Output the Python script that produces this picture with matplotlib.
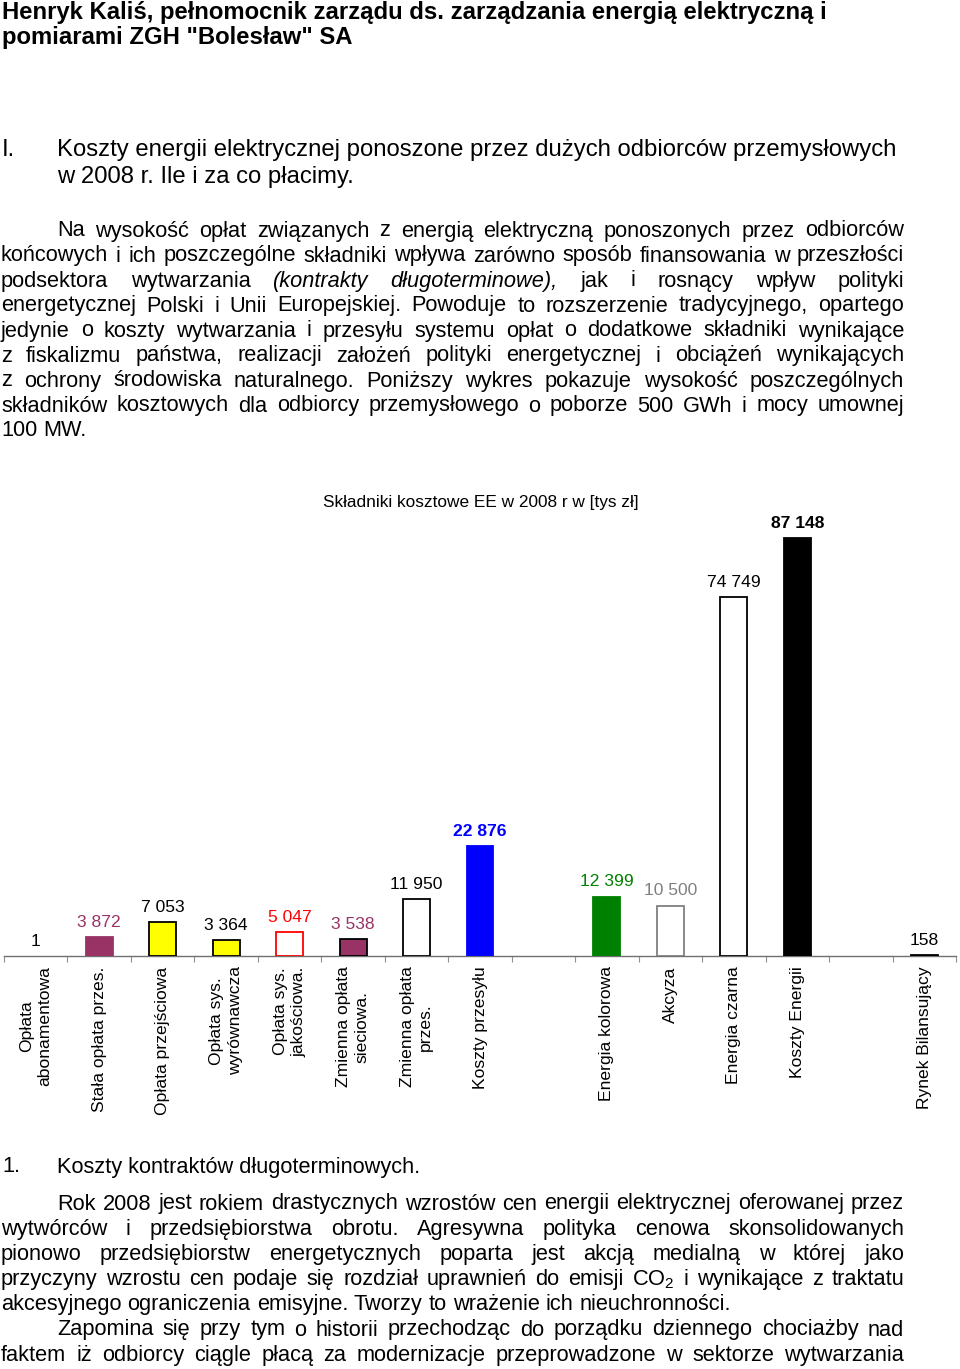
import matplotlib
matplotlib.use("Agg")
import matplotlib.pyplot as plt
from matplotlib.transforms import Affine2D
import numpy as np

plt.rcParams['font.family'] = ['Liberation Sans', 'DejaVu Sans']
plt.rcParams['mathtext.fontset'] = 'custom'
plt.rcParams['mathtext.rm'] = 'Liberation Sans'
plt.rcParams['mathtext.it'] = 'Liberation Sans:italic'
plt.rcParams['mathtext.bf'] = 'Liberation Sans:bold'

# ---------------- data ----------------
categories = ["Opłata\nabonamentowa", "Stała opłata przes.", "Opłata przejściowa",
              "Opłata sys.\nwyrównawcza", "Opłata sys.\njakościowa.", "Zmienna opłata\nsieciowa.",
              "Zmienna opłata\nprzes.", "Koszty przesyłu", "", "Energia kolorowa", "Akcyza",
              "Energia czarna", "Koszty Energii", "", "Rynek Bilansujący"]
values = [1, 3872, 7053, 3364, 5047, 3538, 11950, 22876, None, 12399, 10500, 74749, 87148, None, 158]
face_colors = ["white", "#993366", "#FFFF00", "#FFFF00", "white", "#993366", "white", "#0000FF",
               None, "#008000", "white", "white", "black", None, "black"]
edge_colors = ["none", "#993366", "black", "black", "#FF0000", "black", "black", "#0000FF",
               None, "#008000", "#808080", "black", "black", None, "black"]
label_colors = ["black", "#993366", "black", "black", "#FF0000", "#993366", "black", "#0000FF",
                None, "#008000", "#808080", "black", "black", None, "black"]
label_bold = [False, False, False, False, False, False, False, True,
              False, False, False, False, True, False, False]
chart_title = "Składniki kosztowe EE w 2008 r w [tys zł]"

header_lines = ["Henryk Kaliś, pełnomocnik zarządu ds. zarządzania energią elektryczną i",
                "pomiarami ZGH \"Bolesław\" SA"]
heading_num = "I."
heading_lines = ["Koszty energii elektrycznej ponoszone przez dużych odbiorców przemysłowych",
                 "w 2008 r. Ile i za co płacimy."]
para1 = ["Na wysokość opłat związanych z energią elektryczną ponoszonych przez odbiorców",
         "końcowych i ich poszczególne składniki wpływa zarówno sposób finansowania w przeszłości",
         "podsektora wytwarzania *(kontrakty* *długoterminowe),* jak i rosnący wpływ polityki",
         "energetycznej Polski i Unii Europejskiej. Powoduje to rozszerzenie tradycyjnego, opartego",
         "jedynie o koszty wytwarzania i przesyłu systemu opłat o dodatkowe składniki wynikające",
         "z fiskalizmu państwa, realizacji założeń polityki energetycznej i obciążeń wynikających",
         "z ochrony środowiska naturalnego. Poniższy wykres pokazuje wysokość poszczególnych",
         "składników kosztowych dla odbiorcy przemysłowego o poborze 500 GWh i mocy umownej",
         "100 MW."]
sub_num = "1."
sub_title = "Koszty kontraktów długoterminowych."
para2 = ["Rok 2008 jest rokiem drastycznych wzrostów cen energii elektrycznej oferowanej przez",
         "wytwórców i przedsiębiorstwa obrotu. Agresywna polityka cenowa skonsolidowanych",
         "pionowo przedsiębiorstw energetycznych poparta jest akcją medialną w której jako",
         "przyczyny wzrostu cen podaje się rozdział uprawnień do emisji CO$_2$ i wynikające z traktatu",
         "akcesyjnego ograniczenia emisyjne. Tworzy to wrażenie ich nieuchronności.",
         "Zapomina się przy tym o historii przechodząc do porządku dziennego chociażby nad",
         "faktem iż odbiorcy ciągle płacą za modernizacje przeprowadzone w sektorze wytwarzania"]

# ---------------- figure ----------------
W, H = 960, 1369
fig = plt.figure(figsize=(W / 100, H / 100), dpi=100)
fig.patch.set_facecolor("white")
T = Affine2D().scale(1, -1).translate(0, H)  # pixels measured from top-left
renderer = fig.canvas.get_renderer()


def width_of(s, size, **kw):
    t = fig.text(0, 0, s, fontsize=size, **kw)
    w = t.get_window_extent(renderer).width
    t.remove()
    return w


def fit(s, target, **kw):
    return 10.0 * target / width_of(s, 10.0, **kw)


def put(x, y, s, size, **kw):
    return fig.text(x, y, s, transform=T, fontsize=size, ha=kw.pop('ha', 'left'),
                    va='baseline', **kw)


def parse(line):
    toks = []
    for w in line.split(" "):
        if w.startswith("*") and w.endswith("*"):
            toks.append((w[1:-1], {"style": "italic"}))
        else:
            toks.append((w, {}))
    return toks


def justify(line, x0, x1, y, size):
    toks = parse(line)
    ws = [width_of(w, size, **kw) for w, kw in toks]
    gap = (x1 - x0 - sum(ws)) / (len(toks) - 1)
    x = x0
    for (w, kw), wd in zip(toks, ws):
        put(x, y, w, size, **kw)
        x += wd + gap


def left(line, x0, y, size):
    toks = parse(line)
    sp = width_of("a b", size) - width_of("ab", size)
    x = x0
    for w, kw in toks:
        put(x, y, w, size, **kw)
        x += width_of(w, size, **kw) + sp


# header
hsize = fit(header_lines[0], 826, fontweight="bold")
put(2, 18.5, header_lines[0], hsize, fontweight="bold")
put(2, 44, header_lines[1], hsize, fontweight="bold")

# heading
gsize = fit(heading_lines[0], 840)
put(2, 156, heading_num, gsize)
put(57, 156, heading_lines[0], gsize)
put(57, 182.5, heading_lines[1], gsize)

# body size
bsize = fit(sub_title, 366)
R = 904
base = 236.5
for i, line in enumerate(para1):
    y = base + 25 * i
    if i == len(para1) - 1:
        left(line, 1, y, bsize)
    else:
        justify(line, 57 if i == 0 else 1, R, y, bsize)

put(2, 1172.5, sub_num, bsize)
put(57, 1172.5, sub_title, bsize)
base2 = 1209.5
for i, line in enumerate(para2):
    y = base2 + 25.2 * i
    if i == 4:
        left(line, 1, y, bsize)
    else:
        justify(line, 57 if i in (0, 5) else 1, R, y, bsize)

# chart title
tsize = fit(chart_title, 317)
put(480.5, 507, chart_title, tsize, ha="center")

# ---------------- chart ----------------
k = 418.0 / 87148.0  # px per unit
ax_bottom, ax_top = 956, 470
ax = fig.add_axes([4 / W, (H - ax_bottom) / H, 952 / W, (ax_bottom - ax_top) / H])
ax.set_xlim(-0.5, len(categories) - 0.5)
ax.set_ylim(0, (ax_bottom - ax_top) / k)
ax.patch.set_alpha(0)

csize = 12.6
for i, v in enumerate(values):
    if v is None:
        continue
    ax.bar(i, v, width=0.425, facecolor=face_colors[i], edgecolor=edge_colors[i],
           linewidth=1.3, zorder=3)
    ax.annotate(f"{v:,}".replace(",", " "), (i, v), xytext=(0, 7.3), textcoords="offset points",
                ha="center", va="baseline", color=label_colors[i], fontsize=csize,
                fontweight="bold" if label_bold[i] else "normal")

for s in ("top", "right", "left"):
    ax.spines[s].set_visible(False)
ax.spines["bottom"].set_color("#707070")
ax.spines["bottom"].set_linewidth(1.0)
ax.set_yticks([])
ax.set_xticks(np.arange(len(categories)))
ax.set_xticklabels(categories, rotation=90, fontsize=csize, multialignment="center",
                   linespacing=1.3)
ax.set_xticks(np.arange(-0.5, len(categories), 1.0), minor=True)
ax.tick_params(axis="x", which="major", length=0, pad=7.5)
ax.tick_params(axis="x", which="minor", length=4, width=0.8, color="#909090", direction="out")

fig.savefig("out.png", dpi=100, facecolor="white")
